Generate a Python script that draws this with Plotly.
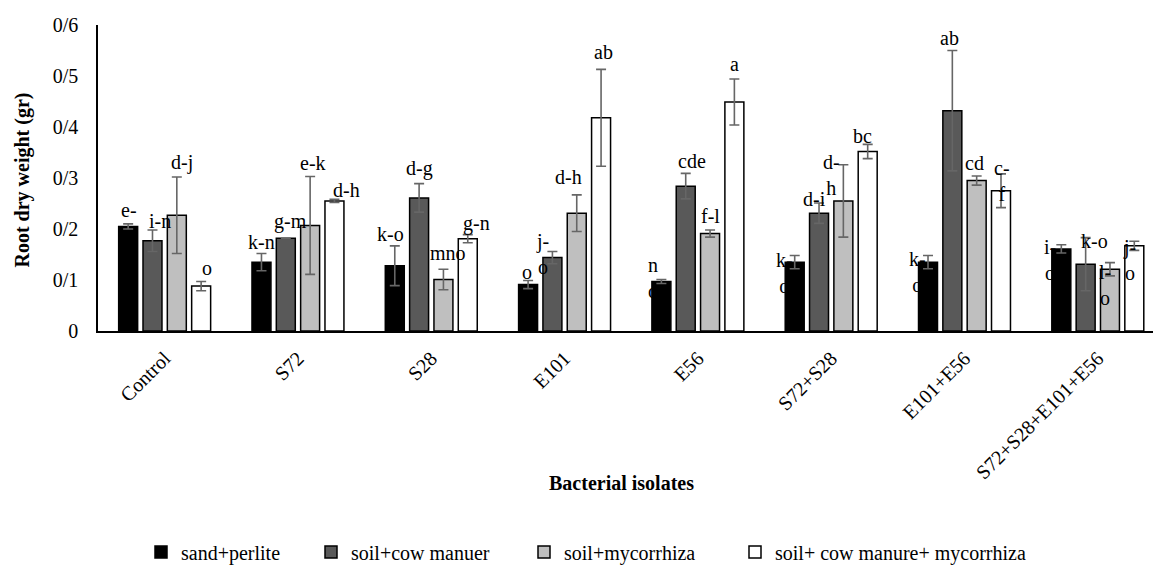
import plotly.graph_objects as go

# ---------------- data ----------------
categories = ["Control", "S72", "S28", "E101", "E56", "S72+S28", "E101+E56", "S72+S28+E101+E56"]
series_names = ["sand+perlite", "soil+cow manuer", "soil+mycorrhiza", "soil+ cow manure+ mycorrhiza"]

sand_perlite = [0.205, 0.135, 0.128, 0.091, 0.097, 0.135, 0.135, 0.161]
sand_perlite_err = [0.005, 0.017, 0.039, 0.008, 0.004, 0.013, 0.013, 0.008]
soil_cow = [0.177, 0.182, 0.261, 0.144, 0.284, 0.231, 0.432, 0.131]
soil_cow_err = [0.021, 0.0, 0.028, 0.012, 0.025, 0.020, 0.118, 0.052]
soil_myc = [0.227, 0.207, 0.101, 0.231, 0.191, 0.255, 0.295, 0.121]
soil_myc_err = [0.075, 0.096, 0.020, 0.036, 0.007, 0.071, 0.009, 0.013]
soil_cow_myc = [0.088, 0.255, 0.181, 0.418, 0.449, 0.352, 0.275, 0.167]
soil_cow_myc_err = [0.009, 0.003, 0.008, 0.095, 0.045, 0.014, 0.033, 0.009]

sand_perlite_lbl = ["e-", "k-n", "k-o", "o", "n<br>o", "k-<br>o", "k-<br>o", "i-<br>o"]
soil_cow_lbl = ["i-n", "g-m", "d-g", "j-<br>o", "cde", "d-i", "ab", "k-o"]
soil_myc_lbl = ["d-j", "e-k", "mno", "d-h", "f-l", "d-<br>h", "cd", "l-<br>o"]
soil_cow_myc_lbl = ["o", "d-h", "g-n", "ab", "a", "bc", "c-<br>f", "j-<br>o"]

y_tickvals = [0, 0.1, 0.2, 0.3, 0.4, 0.5, 0.6]
y_ticktext = ["0", "0/1", "0/2", "0/3", "0/4", "0/5", "0/6"]

# ---------------- style / layout ----------------
FONT = "Liberation Serif, Times New Roman, serif"
FS = 20
W, H = 1153, 570
ML, MR, MT, MB = 98, 0, 25, 239
X_RANGE = [-0.5, 7.414]
BARGAP, BARGROUPGAP = 0.27, 0.22
colors = ["#000000", "#595959", "#bfbfbf", "#ffffff"]
ERR_COLOR = "#666666"

def tfont(bold=False):
    return dict(family=FONT, size=FS, color="#000000")

# label nudges in pixels (dx right, dy up from error-bar top to label centre)
label_dx = [
    [1, 0, -4, -1, -8, -10, -11, -11],
    [8, 5, 0, -10, 6, -5, -3, 9],
    [5, 3, 5, -8, 0, -12, -2, -5],
    [6, 12, 9, 2, 0, -5, 1, -5],
]
label_dy = [
    [14, 11, 12, 9, 1, -17, -16, -15],
    [9, 17, 15, -3, 12, 4, 13, -3],
    [14, 13, 16, 18, 14, -10, 13, -22],
    [14, 9, 11, 17, 15, 8, -7, -19],
]
# legend text start positions (px, container)
legend_text_x = [181, 351, 564, 775]
LEGEND_Y_PX = 552

values = [sand_perlite, soil_cow, soil_myc, soil_cow_myc]
errors = [sand_perlite_err, soil_cow_err, soil_myc_err, soil_cow_myc_err]
labels = [sand_perlite_lbl, soil_cow_lbl, soil_myc_lbl, soil_cow_myc_lbl]
legend_ids = ["legend", "legend2", "legend3", "legend4"]

fig = go.Figure()
for j in range(4):
    fig.add_trace(go.Bar(
        x=categories, y=values[j], name=series_names[j],
        marker=dict(color=colors[j], line=dict(color="#000000", width=1.5)),
        error_y=dict(type="data", array=errors[j], visible=True,
                     color=ERR_COLOR, thickness=1.6, width=5),
        legend=legend_ids[j],
    ))

# pixel geometry for label placement
plot_w = W - ML - MR
cat_px = plot_w / (X_RANGE[1] - X_RANGE[0])
slot_px = (1 - BARGAP) * cat_px / 4

annotations = []
for j in range(4):
    for i, c in enumerate(categories):
        annotations.append(dict(
            x=c, y=values[j][i] + errors[j][i], xref="x", yref="y",
            text=labels[j][i], showarrow=False,
            xanchor="center", yanchor="middle",
            xshift=(j - 1.5) * slot_px + label_dx[j][i],
            yshift=label_dy[j][i],
            font=tfont(),
        ))

plot_h = H - MT - MB
annotations.append(dict(
    text="<b>Root dry weight (gr)</b>", textangle=-90, showarrow=False,
    xref="paper", yref="paper", x=(22 - ML) / plot_w, y=0.5 - 2.5 / plot_h,
    xanchor="center", yanchor="middle",
    font=tfont(),
))
annotations.append(dict(
    text="<b>Bacterial isolates</b>", showarrow=False,
    xref="paper", yref="paper", x=(621 - ML) / plot_w, y=(H - MB - 483) / plot_h,
    xanchor="center", yanchor="middle",
    font=tfont(),
))

layout_legends = {}
for j, lid in enumerate(legend_ids):
    layout_legends[lid] = dict(
        x=(legend_text_x[j] - 40) / W, y=1 - LEGEND_Y_PX / H,
        xref="container", yref="container",
        xanchor="left", yanchor="middle",
        orientation="h", bgcolor="rgba(0,0,0,0)", borderwidth=0,
        font=tfont(),
    )

fig.update_layout(
    width=W, height=H,
    margin=dict(l=ML, r=MR, t=MT, b=MB, autoexpand=False),
    paper_bgcolor="#ffffff", plot_bgcolor="#ffffff",
    barmode="group", bargap=BARGAP, bargroupgap=BARGROUPGAP,
    font=tfont(),
    showlegend=True,
    annotations=annotations,
    **layout_legends,
)
fig.update_xaxes(
    range=X_RANGE, showline=True, linecolor="#000000", linewidth=1.5,
    showgrid=False, zeroline=False, tickangle=-45,
    ticks="outside", ticklen=6, tickcolor="rgba(0,0,0,0)",
    tickfont=tfont(),
    automargin=False, fixedrange=True,
)
fig.update_yaxes(
    range=[0, 0.6], tickvals=y_tickvals, ticktext=y_ticktext,
    showline=True, linecolor="#000000", linewidth=1.5,
    showgrid=False, zeroline=False,
    ticks="outside", ticklen=14, tickcolor="rgba(0,0,0,0)",
    tickfont=tfont(),
    automargin=False, fixedrange=True,
)

fig.write_html("out.html")
